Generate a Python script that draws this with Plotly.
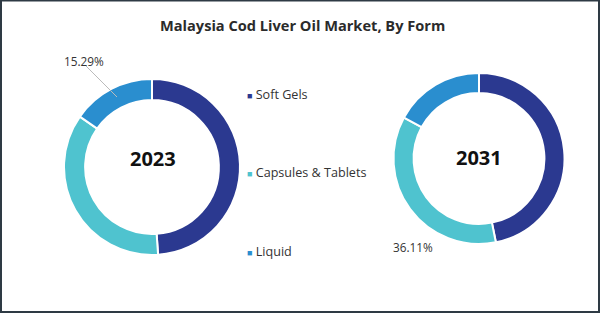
import plotly.graph_objects as go

title = "Malaysia Cod Liver Oil Market, By Form"
forms = ["Soft Gels", "Capsules & Tablets", "Liquid"]
years = ["2023", "2031"]
share_2023 = [48.9, 35.81, 15.29]
share_2031 = [46.84, 36.11, 17.05]
colors = ["#2b3990", "#4fc3cf", "#2a8ecf"]

W, H = 600, 313

def dom(x0, x1, ytop, ybot):
    return dict(x=[x0 / W, x1 / W], y=[1 - ybot / H, 1 - ytop / H])

fig = go.Figure()
fig.add_trace(go.Pie(labels=forms, values=share_2023, sort=False, direction="clockwise",
                     rotation=0, hole=0.76, textinfo="none", hoverinfo="label+percent",
                     marker=dict(colors=colors, line=dict(color="white", width=2)),
                     domain=dom(64, 240, 79, 255), showlegend=False))
fig.add_trace(go.Pie(labels=forms, values=share_2031, sort=False, direction="clockwise",
                     rotation=0, hole=0.765, textinfo="none", hoverinfo="label+percent",
                     marker=dict(colors=colors, line=dict(color="white", width=2)),
                     domain=dom(393, 565, 73, 244), showlegend=False))

font = "Open Sans"
ann = []
# title
ann.append(dict(x=302 / W, y=1 - 25 / H, text="<b>" + title + "</b>", showarrow=False,
                font=dict(family=font, size=14.6, color="#2b2b2b"), xanchor="center", yanchor="middle"))
# center labels
ann.append(dict(x=153 / W, y=1 - 158 / H, text="<b>" + years[0] + "</b>", showarrow=False,
                font=dict(family=font, size=20, color="#111111"), xanchor="center", yanchor="middle"))
ann.append(dict(x=479 / W, y=1 - 157 / H, text="<b>" + years[1] + "</b>", showarrow=False,
                font=dict(family=font, size=20, color="#111111"), xanchor="center", yanchor="middle"))
# legend (as annotations)
for name, col, ly in zip(forms, colors, [94, 172, 251]):
    ann.append(dict(x=245 / W, y=1 - ly / H, xanchor="left", yanchor="middle", showarrow=False,
                    text='<span style="color:%s;font-size:9px">■</span> %s' % (col, name),
                    font=dict(family=font, size=12.6, color="#333333")))
# value labels
ann.append(dict(x=117 / W, y=1 - 97 / H, ax=-33, ay=-33, axref="pixel", ayref="pixel",
                showarrow=True, arrowhead=0, arrowwidth=1,
                arrowcolor="#bbbbbb", text="", standoff=0, startstandoff=0))
ann.append(dict(x=84 / W, y=1 - 61 / H, text="%.2f%%" % share_2023[2], showarrow=False,
                font=dict(family=font, size=11.8, color="#333333"), xanchor="center", yanchor="middle"))
ann.append(dict(x=413 / W, y=1 - 247 / H, text="%.2f%%" % share_2031[1], showarrow=False,
                font=dict(family=font, size=11.8, color="#333333"), xanchor="center", yanchor="middle"))

for a in ann:
    a.setdefault("xref", "paper")
    a.setdefault("yref", "paper")

fig.update_layout(
    width=W, height=H, margin=dict(l=0, r=0, t=0, b=0),
    paper_bgcolor="white", plot_bgcolor="white",
    annotations=ann,
    shapes=[dict(type="rect", xref="paper", yref="paper", x0=1 / W, x1=1 - 1 / W, y0=1 / H, y1=1 - 0.5 / H,
                 line=dict(color="#2e3a44", width=2), fillcolor="rgba(0,0,0,0)")],
)
fig.write_html("out.html", config={"displayModeBar": False})
